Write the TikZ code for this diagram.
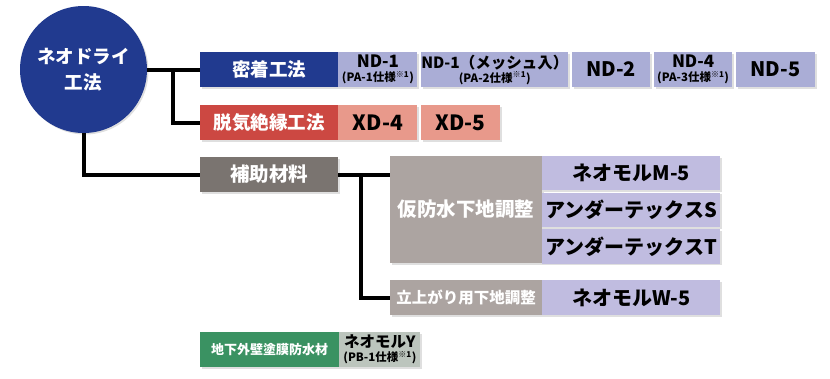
\documentclass[tikz,border=0pt]{standalone}
\usepackage{fontspec}
\setmainfont{Noto Sans CJK JP}
\usetikzlibrary{positioning, shadows}
\definecolor{myblue}{RGB}{33,58,143}
\definecolor{mylav}{RGB}{170,173,214}
\definecolor{mylavlight}{RGB}{192,188,224}
\definecolor{myred}{RGB}{204,72,66}
\definecolor{mysalmon}{RGB}{232,153,139}
\definecolor{mygray}{RGB}{122,116,112}
\definecolor{mymauve}{RGB}{172,164,161}
\definecolor{mygreen}{RGB}{58,146,98}
\definecolor{mysage}{RGB}{188,197,189}
\newcommand{\fsz}[1]{\bfseries\fontsize{#1}{#1}\selectfont}

\begin{document}
\begin{tikzpicture}[
		x=1pt, y=-1pt,
		base/.style={rectangle, inner sep=0pt, align=center, text centered,
			drop shadow={opacity=0.25, shadow xshift=1.5pt, shadow yshift=-1.5pt}},
		head/.style={base, text=white, minimum width=138pt, minimum height=35pt, font=\fsz{18.5}},
		ndbox/.style={base, fill=mylav, minimum height=35pt, font=\fsz{20}},
		xdbox/.style={base, fill=mysalmon, minimum height=35pt, minimum width=79pt, font=\fsz{21}},
		subbox/.style={base, fill=mylavlight, minimum width=178pt, minimum height=34.3pt, font=\fsz{20}},
		link/.style={line width=4pt}
		]
		\useasboundingbox (0,0) rectangle (830,378);
		
		% Nodes
		\node[circle, fill=myblue, minimum size=127pt, inner sep=0pt, text=white, align=center,
			font=\bfseries\fontsize{18.5}{26}\selectfont,
			drop shadow={opacity=0.25, shadow xshift=1.5pt, shadow yshift=-1.5pt}] (neo) at (83.5,69.5) {ネオドライ\\工法};
		
		\node[head, fill=myblue] (mitchaku) at (269,69.5) {密着工法};
		\node[ndbox, minimum width=79pt, right=0pt of mitchaku] (nd1)
			{{\fsz{17}ND-1}\\[-6pt]{\fsz{11.5}(PA-1仕様\textsuperscript{※1})}};
		\node[ndbox, minimum width=133pt, right=3.5pt of nd1] (nd1m)
			{{\fsz{15.5}ND-1（メッシュ入）}\\[-6pt]{\fsz{11.5}(PA-2仕様\textsuperscript{※1})}};
		\node[ndbox, minimum width=78pt, right=3.5pt of nd1m] (nd2) {ND-2};
		\node[ndbox, minimum width=78pt, right=3.5pt of nd2] (nd4)
			{{\fsz{17}ND-4}\\[-6pt]{\fsz{11.5}(PA-3仕様\textsuperscript{※1})}};
		\node[ndbox, minimum width=79pt, right=3.5pt of nd4] (nd5) {ND-5};
		
		\node[head, fill=myred] (datsuki) at (269,122.5) {脱気絶縁工法};
		\node[xdbox, right=0pt of datsuki] (xd4) {XD-4};
		\node[xdbox, right=3.5pt of xd4] (xd5) {XD-5};
		
		\node[head, fill=mygray, font=\fsz{19.5}] (hojo) at (269,174.5) {補助材料};
		
		\node[base, fill=mymauve, text=white, minimum width=152pt, minimum height=107pt, font=\fsz{19.5}] (kari) at (466,209.5) {仮防水下地調整};
		\node[subbox, anchor=north west] (m5) at (kari.north east) {ネオモルM-5};
		\node[subbox, below=2pt of m5] (uts) {アンダーテックスS};
		\node[subbox, below=2pt of uts] (utt) {アンダーテックスT};
		
		\node[base, fill=mymauve, text=white, minimum width=152pt, minimum height=35pt, font=\fsz{15.5}] (tachi) at (466,297.5) {立上がり用下地調整};
		\node[subbox, minimum height=35pt, right=0pt of tachi] (w5) {ネオモルW-5};
		
		\node[head, fill=mygreen, minimum width=139pt, font=\fsz{13}] (gaiheki) at (269.5,349.5) {地下外壁塗膜防水材};
		\node[base, fill=mysage, minimum width=81pt, minimum height=35pt, font=\fsz{15.5}, right=0pt of gaiheki] (neoy)
			{ネオモルY\\[-1pt]{\fsz{11.5}(PB-1仕様\textsuperscript{※1})}};
		
		\coordinate (j1) at (173,69.5);
		\coordinate (j2) at (361,174.5);
		
		% Connectors
		\draw[link] (neo.east) -- (mitchaku.west);
		\draw[link] (j1) |- (datsuki.west);
		\draw[link] (neo.south) |- (hojo.west);
		\draw[link] (hojo.east) -- (hojo.east -| kari.west);
		\draw[link] (j2) |- (tachi.west);
		
	\end{tikzpicture}
\end{document}
